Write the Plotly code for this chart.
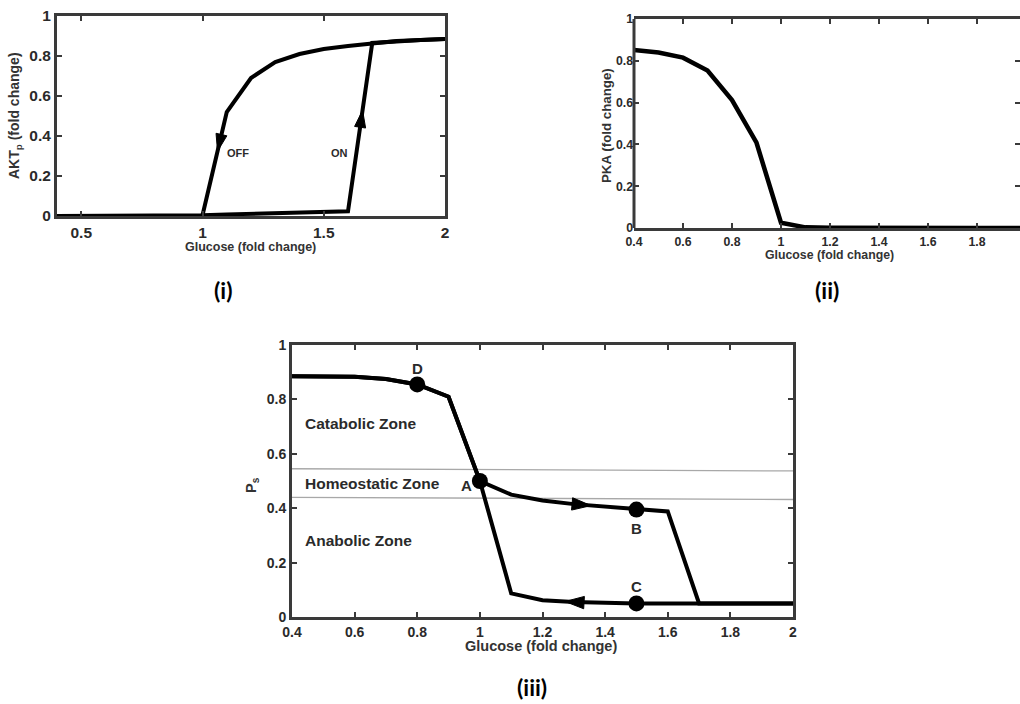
import plotly.graph_objects as go

# ---------------- data ----------------
glucose = [0.4, 0.5, 0.6, 0.7, 0.8, 0.9, 1.0, 1.1, 1.2, 1.3, 1.4, 1.5, 1.6, 1.7, 1.8, 1.9, 2.0]

# panel (i): AKTp hysteresis
akt_on = [0.0, 0.0, 0.0, 0.0, 0.001, 0.002, 0.004, 0.008, 0.011, 0.014, 0.017, 0.020, 0.024,
          0.865, 0.875, 0.880, 0.885]
akt_off_x = [1.0, 1.1, 1.2, 1.3, 1.4, 1.5, 1.6, 1.7, 1.8, 1.9, 2.0]
akt_off = [0.004, 0.52, 0.69, 0.77, 0.81, 0.835, 0.85, 0.865, 0.875, 0.880, 0.885]

# panel (ii): PKA
pka = [0.852, 0.840, 0.815, 0.753, 0.612, 0.408, 0.025, 0.003, 0.001, 0.0, 0.0, 0.0, 0.0,
       0.0, 0.0, 0.0, 0.0]

# panel (iii): Ps
ps_up = [0.885, 0.885, 0.883, 0.875, 0.855, 0.81, 0.50, 0.45, 0.428, 0.415, 0.405, 0.395,
         0.388, 0.05, 0.05, 0.05, 0.05]
ps_down = [0.885, 0.885, 0.883, 0.875, 0.855, 0.81, 0.50, 0.087, 0.062, 0.055, 0.052, 0.05,
           0.05, 0.05, 0.05, 0.05, 0.05]

zone_x = [0.4, 2.0]
zone_hi = [0.545, 0.537]
zone_lo = [0.440, 0.432]
zone_names = ["Catabolic Zone", "Homeostatic Zone", "Anabolic Zone"]
zone_label_x = [0.435, 0.435, 0.435]
zone_label_y = [0.71, 0.49, 0.28]

point_names = ["D", "A", "B", "C"]
point_idx = [4, 6, 11, 11]
point_branch = ["up", "up", "up", "down"]

# ---------------- styling ----------------
FONT = "Liberation Sans"
AX = "#3a3a3a"
TXT = "#2a2a2a"
W, H = 1020, 704


def axis(domain, rng, anchor, size, **kw):
    d = dict(domain=domain, range=rng, anchor=anchor, showline=True, linecolor=AX,
             linewidth=3, mirror="ticks", ticks="inside", ticklen=5, tickwidth=2,
             tickcolor=AX, showgrid=False, zeroline=False, automargin=False,
             tickfont=dict(family=FONT, size=size, color=TXT, weight="bold"))
    d.update(kw)
    return d


def px_x(p):
    return p / W


def px_y(p):
    return 1 - p / H


fig = go.Figure()
line = dict(color="black", width=4)

# panel (i)
fig.add_trace(go.Scatter(x=glucose, y=akt_on, mode="lines", line=line, xaxis="x", yaxis="y"))
fig.add_trace(go.Scatter(x=akt_off_x, y=akt_off, mode="lines", line=line, xaxis="x", yaxis="y"))
# panel (ii)
fig.add_trace(go.Scatter(x=glucose, y=pka, mode="lines", line=dict(color="black", width=4.5),
                         xaxis="x2", yaxis="y2"))
# panel (iii)
fig.add_trace(go.Scatter(x=zone_x, y=zone_hi, mode="lines", line=dict(color="#a8a8a8", width=1.3),
                         xaxis="x3", yaxis="y3"))
fig.add_trace(go.Scatter(x=zone_x, y=zone_lo, mode="lines", line=dict(color="#a8a8a8", width=1.3),
                         xaxis="x3", yaxis="y3"))
fig.add_trace(go.Scatter(x=glucose, y=ps_up, mode="lines", line=line, xaxis="x3", yaxis="y3"))
fig.add_trace(go.Scatter(x=glucose, y=ps_down, mode="lines", line=line, xaxis="x3", yaxis="y3"))

branches = {"up": ps_up, "down": ps_down}
pt_x = [glucose[i] for i in point_idx]
pt_y = [branches[b][i] for b, i in zip(point_branch, point_idx)]
fig.add_trace(go.Scatter(x=pt_x, y=pt_y, mode="markers",
                         marker=dict(color="black", size=16, opacity=1), xaxis="x3", yaxis="y3"))


# direction arrowheads placed on the curves (oriented along the path)
def arrow(xs, ys, i, t, forward, xa, ya, size):
    x0, y0, x1, y1 = xs[i], ys[i], xs[i + 1], ys[i + 1]
    tt = t - 0.05 if forward else t + 0.05
    px = [x0 + tt * (x1 - x0), x0 + t * (x1 - x0)]
    py = [y0 + tt * (y1 - y0), y0 + t * (y1 - y0)]
    fig.add_trace(go.Scatter(x=px, y=py, mode="markers", xaxis=xa, yaxis=ya, opacity=1,
                             marker=dict(symbol="arrow", size=[0, size], color="black",
                                         opacity=1, angleref="previous",
                                         line=dict(width=1, color="black"))))


arrow(akt_off_x, akt_off, 0, 0.62, False, "x", "y", 18)
arrow(glucose, akt_on, 12, 0.6, True, "x", "y", 18)
arrow(glucose, ps_up, 9, 0.55, True, "x3", "y3", 20)
arrow(glucose, ps_down, 8, 0.72, False, "x3", "y3", 20)

annotations = []
# point labels
label_shift = {"D": (0, 16), "A": (-13, -5), "B": (0, -19), "C": (0, 17)}
for n, x, y in zip(point_names, pt_x, pt_y):
    dx, dy = label_shift[n]
    annotations.append(dict(x=x, y=y, xref="x3", yref="y3", text=n, showarrow=False,
                            xshift=dx, yshift=dy, xanchor="center", yanchor="middle",
                            font=dict(family=FONT, size=15, color=TXT, weight="bold")))
# zone labels
for n, x, y in zip(zone_names, zone_label_x, zone_label_y):
    annotations.append(dict(x=x, y=y, xref="x3", yref="y3", text=n, showarrow=False,
                            xanchor="left", yanchor="middle",
                            font=dict(family=FONT, size=15.5, color=TXT, weight="bold")))

# ON / OFF labels
annotations.append(dict(x=1.147, y=0.315, xref="x", yref="y", text="OFF", showarrow=False,
                        xanchor="center", yanchor="middle",
                        font=dict(family=FONT, size=11, color=TXT, weight="bold")))
annotations.append(dict(x=1.563, y=0.315, xref="x", yref="y", text="ON", showarrow=False,
                        xanchor="center", yanchor="middle",
                        font=dict(family=FONT, size=11, color=TXT, weight="bold")))

# axis titles
ttl = dict(family=FONT, color="#333", weight="bold")
titles = [
    ("Glucose (fold change)", 250, 247, 0, 12.5),
    ("AKT<sub>p</sub> (fold change)", 15, 116, -90, 14),
    ("Glucose (fold change)", 829, 255, 0, 12.3),
    ("PKA (fold change)", 607, 126, -90, 13.3),
    ("Glucose (fold change)", 541, 646, 0, 14.5),
    ("P<sub>s</sub>", 252, 485, -90, 14.5),
]
for t, cx, cy, ang, sz in titles:
    annotations.append(dict(x=px_x(cx), y=px_y(cy), xref="paper", yref="paper", text=t,
                            textangle=ang, showarrow=False, xanchor="center",
                            yanchor="middle", font=dict(size=sz, **ttl)))

# panel tags
tag = dict(family="Lato", size=23, color="black", weight="bold")
for t, cx, cy in [("(i)", 223, 290), ("(ii)", 827, 290), ("(iii)", 532, 687)]:
    annotations.append(dict(x=px_x(cx), y=px_y(cy), xref="paper", yref="paper", text=t,
                            showarrow=False, xanchor="center", yanchor="middle", font=tag))

fig.update_layout(
    width=W, height=H, autosize=False, margin=dict(l=0, r=0, t=0, b=0, pad=0),
    paper_bgcolor="white", plot_bgcolor="white", showlegend=False,
    xaxis=axis([px_x(57), px_x(445)], [0.4, 2.0], "y", 15.5, tickvals=[0.5, 1, 1.5, 2]),
    yaxis=axis([px_y(216), px_y(16)], [0, 1], "x", 15.5, dtick=0.2),
    xaxis2=axis([px_x(634), 1.0], [0.4, 0.4 + 1.6 * 386 / 392], "y2", 12.3, dtick=0.2,
                tick0=0.4, ticklabelstandoff=0),
    yaxis2=axis([px_y(228), px_y(19)], [0, 1], "x2", 12.3, dtick=0.2, showline=False),
    xaxis3=axis([px_x(292), px_x(793)], [0.4, 2.0], "y3", 14, dtick=0.2, tick0=0.4),
    yaxis3=axis([px_y(617), px_y(345)], [0, 1], "x3", 14, dtick=0.2),
    annotations=annotations,
    shapes=[dict(type="line", xref="x2 domain", yref="y2 domain", x0=0, x1=0, y0=0, y1=1,
                 line=dict(color=AX, width=3))],
)

fig.write_html("out.html", config={"displayModeBar": False},
               post_script="document.body.style.margin='0';document.body.style.overflow='hidden';")
